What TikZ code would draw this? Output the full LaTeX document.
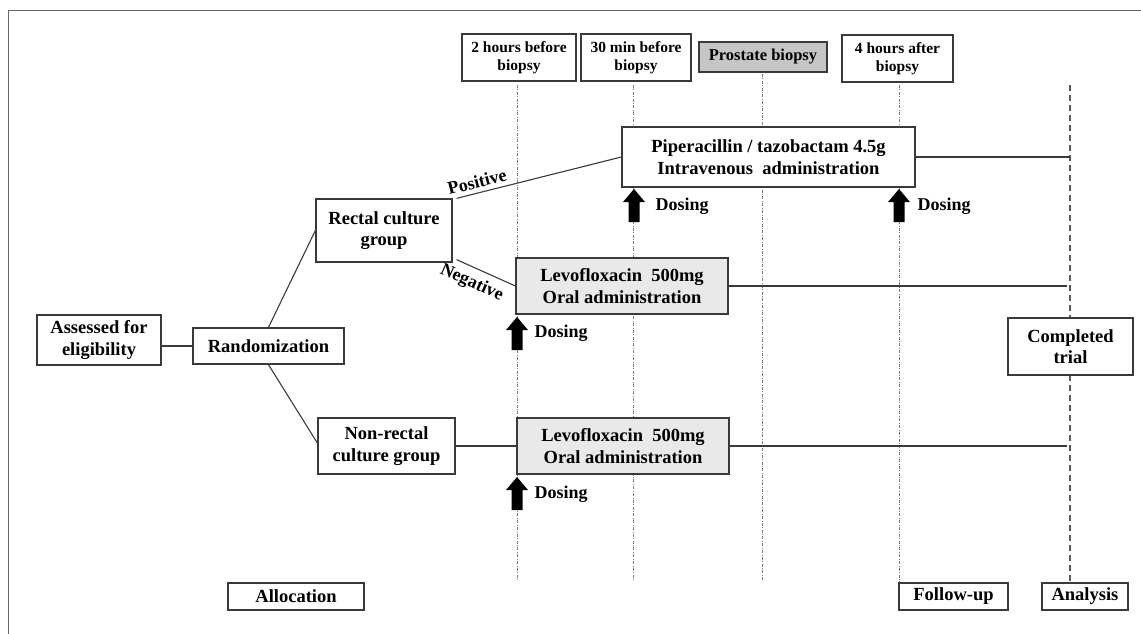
\documentclass[tikz,border=0pt]{standalone}
\usepackage{fontspec}
\setmainfont{Liberation Serif}
\usetikzlibrary{patterns}
\definecolor{lc}{HTML}{3A3A3A}
\definecolor{vc}{HTML}{7A7A7A}
\definecolor{levofill}{HTML}{E9E9E9}
\definecolor{prostfill}{HTML}{C6C6C6}
\tikzset{
  bx/.style={draw=lc, line width=1.3pt, fill=white, inner sep=0pt, align=center,
    font=\bfseries\fontsize{18.5}{21.5}\selectfont},
  topbx/.style={bx, font=\bfseries\fontsize{15.5}{18.5}\selectfont},
  conn/.style={draw=lc, line width=1.1pt},
  vline/.style={draw=vc, line width=0.8pt, dash pattern=on 3pt off 1.5pt on 0.8pt off 1.5pt},
  aline/.style={draw=lc!85, line width=1.2pt, dash pattern=on 6pt off 4pt},
  lbl/.style={font=\bfseries\fontsize{18}{21}\selectfont},
  uparrow/.pic={\fill[black] (0,0) -- (11,13) -- (5.5,13) -- (5.5,33) -- (-5.5,33) -- (-5.5,13) -- (-11,13) -- cycle;}
}
\begin{document}
\begin{tikzpicture}[x=1pt,y=-1pt]
\useasboundingbox (0,0) rectangle (1141,634);
% frame
\draw[gray!80!black, line width=1pt] (8,634) -- (8,11) -- (1141,11);

% vertical time lines
\coordinate (v1a) at (517,85);  \coordinate (v1b) at (517,580);
\coordinate (v2a) at (633,85);  \coordinate (v2b) at (633,580);
\coordinate (v3a) at (762,74);  \coordinate (v3b) at (762,580);
\coordinate (v4a) at (899,85);  \coordinate (v4b) at (899,583);
\coordinate (v5a) at (1070,85); \coordinate (v5b) at (1070,583);
\draw[vline] (v1a) -- (v1b);
\draw[vline] (v2a) -- (v2b);
\draw[vline] (v3a) -- (v3b);
\draw[vline] (v4a) -- (v4b);
\draw[aline] (v5a) -- (v5b);

% top boxes
\node[topbx, minimum width=114pt, minimum height=47pt] (t1) at (519,57.5) {2 hours before\\biopsy};
\node[topbx, minimum width=110pt, minimum height=47pt] (t2) at (636,57.5) {30 min before\\biopsy};
\node[topbx, fill=prostfill, minimum width=128pt, minimum height=30pt, font=\bfseries\fontsize{16.5}{19}\selectfont] (t3) at (763,57) {Prostate biopsy};
\node[topbx, minimum width=111pt, minimum height=47pt] (t4) at (897.5,58.5) {4 hours after\\biopsy};

% main boxes
\node[bx, minimum width=124pt, minimum height=50pt] (assess) at (99,340) {Assessed for\\eligibility};
\node[bx, minimum width=151pt, minimum height=36pt] (rand) at (268.5,346) {Randomization};
\node[bx, minimum width=136pt, minimum height=63pt] (rectal) at (384,230.5) {Rectal culture\\group};
\node[bx, minimum width=137pt, minimum height=56pt] (nonrect) at (386.5,446) {Non-rectal\\culture group};
\node[bx, preaction={fill=white}, pattern=dots, pattern color=gray!55, fill=none, minimum width=293pt, minimum height=60pt] (pip) at (768.5,157) {Piperacillin / tazobactam 4.5g\\Intravenous\ \ administration};
\node[bx, fill=levofill, minimum width=212pt, minimum height=56pt] (levo1) at (622,286) {Levofloxacin\ \ 500mg\\Oral administration};
\node[bx, fill=levofill, minimum width=212pt, minimum height=56pt] (levo2) at (623,446) {Levofloxacin\ \ 500mg\\Oral administration};
\node[bx, minimum width=125pt, minimum height=57pt] (done) at (1070.5,346.5) {Completed\\trial};

% bottom boxes
\node[bx, minimum width=136pt, minimum height=27pt] (alloc) at (296,596.5) {Allocation};
\node[bx, minimum width=109pt, minimum height=27pt] (follow) at (953.5,596.5) {Follow-up};
\node[bx, minimum width=86pt, minimum height=27pt] (analysis) at (1085,596.5) {Analysis};

% connectors
\draw[conn] (rand.west) -- (rand.west -| assess.east);
\draw[conn] (rand.north) -- (rectal.west);
\draw[conn] (rand.south) -- ([yshift=3pt]nonrect.west);
\draw[conn] ([xshift=4pt]rectal.north east) -- node[lbl, pos=0.14, above=1pt, sloped] {Positive} (pip.west);
\draw[conn] ([xshift=4pt,yshift=3pt]rectal.south east) -- node[lbl, pos=0.36, below=3pt, sloped] {Negative} (levo1.west);
\draw[conn] (nonrect.east) -- (levo2.west);
\coordinate (e1) at (1070,157);
\coordinate (e2) at (1067,286);
\coordinate (e3) at (1067,446);
\draw[conn] (pip.east) -- (e1);
\draw[conn] (levo1.east) -- (e2);
\draw[conn] (levo2.east) -- (e3);

% dosing arrows
\pic at (634,189) {uparrow};
\node[lbl, anchor=west] (d1) at (652,206) {Dosing};
\pic at (899,189) {uparrow};
\node[lbl, anchor=west] (d2) at (914,206) {Dosing};
\pic at (517,317) {uparrow};
\node[lbl, anchor=west] (d3) at (531,333) {Dosing};
\pic at (517,477) {uparrow};
\node[lbl, anchor=west] (d4) at (531,494) {Dosing};
\end{tikzpicture}
\end{document}
